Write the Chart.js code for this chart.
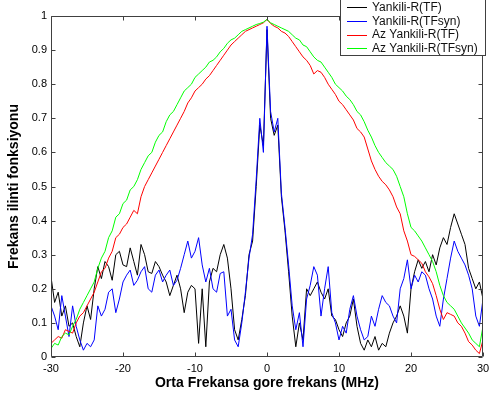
<!DOCTYPE html>
<html lang="tr">
<head>
    <meta charset="UTF-8">
    <title>Frekans ilinti fonksiyonu</title>
    <style>
        body { margin: 0; background: #fff; }
        #wrap { width: 489px; height: 401px; }
    </style>
    <script src="https://cdn.jsdelivr.net/npm/chart.js"></script>
</head>
<body>
    <div id="wrap"><canvas id="grafik" width="489" height="401"></canvas></div>

    <script>
        // frekans ekseni: -30 .. 30 MHz, 0.5 MHz adim
        var frekans = [];
        for (var f = -30; f <= 30.001; f += 0.5) frekans.push(Math.round(f * 10) / 10);

        var seriAdlari = ['Yankili-R(TF)', 'Yankili-R(TFsyn)', 'Az Yankili-R(TF)', 'Az Yankili-R(TFsyn)'];
        var renkler = ['#000000', '#0000ff', '#ff0000', '#00ff00'];

        var yankiliTF = [
            0.235, 0.16, 0.19, 0.12, 0.15, 0.09, 0.10, 0.06, 0.03, 0.10,
            0.15, 0.11, 0.20, 0.265, 0.23, 0.28, 0.265, 0.225, 0.30, 0.31,
            0.27, 0.265, 0.32, 0.28, 0.24, 0.33, 0.30, 0.25, 0.245, 0.28,
            0.265, 0.24, 0.22, 0.18, 0.21, 0.24, 0.20, 0.13, 0.19, 0.21,
            0.20, 0.04, 0.20, 0.03, 0.22, 0.26, 0.25, 0.30, 0.33, 0.29,
            0.20, 0.08, 0.05, 0.11, 0.18, 0.30, 0.34, 0.50, 0.68, 0.62,
            0.96,
            0.70, 0.65, 0.68, 0.47, 0.37, 0.25, 0.12, 0.03, 0.10, 0.05,
            0.20, 0.18, 0.20, 0.22, 0.19, 0.17, 0.20, 0.12, 0.11, 0.08,
            0.06, 0.10, 0.12, 0.17, 0.09, 0.04, 0.02, 0.05, 0.03, 0.06,
            0.02, 0.04, 0.03, 0.07, 0.10, 0.12, 0.15, 0.12, 0.07, 0.20,
            0.25, 0.285, 0.26, 0.28, 0.25, 0.30, 0.27, 0.32, 0.35, 0.33,
            0.38, 0.42, 0.39, 0.36, 0.33, 0.26, 0.23, 0.20, 0.22, 0.17
        ];

        var yankiliTFsyn = [
            0.15, 0.12, 0.08, 0.18, 0.12, 0.06, 0.15, 0.09, 0.05, 0.02,
            0.04, 0.03, 0.05, 0.15, 0.12, 0.14, 0.19, 0.20, 0.13, 0.17,
            0.22, 0.24, 0.255, 0.21, 0.225, 0.25, 0.265, 0.20, 0.19, 0.24,
            0.255, 0.22, 0.24, 0.255, 0.21, 0.225, 0.26, 0.30, 0.34, 0.29,
            0.31, 0.35, 0.27, 0.22, 0.26, 0.20, 0.19, 0.245, 0.25, 0.12,
            0.14, 0.05, 0.03, 0.10, 0.19, 0.29, 0.36, 0.52, 0.70, 0.60,
            0.97,
            0.72, 0.66, 0.70, 0.48, 0.38, 0.27, 0.15, 0.08, 0.13, 0.03,
            0.17, 0.21, 0.265, 0.24, 0.12, 0.20, 0.265, 0.13, 0.10, 0.05,
            0.09, 0.07, 0.14, 0.18, 0.12, 0.08, 0.05, 0.06, 0.12, 0.09,
            0.14, 0.18, 0.16, 0.15, 0.12, 0.10, 0.20, 0.23, 0.285, 0.20,
            0.24, 0.22, 0.25, 0.24, 0.20, 0.17, 0.12, 0.09, 0.17, 0.23,
            0.29, 0.34, 0.31, 0.29, 0.27, 0.24, 0.20, 0.12, 0.09, 0.17
        ];

        var azYankiliTF = [
            0.04, 0.05, 0.06, 0.055, 0.08, 0.075, 0.07, 0.10, 0.12, 0.13,
            0.15, 0.17, 0.19, 0.22, 0.25, 0.26, 0.29, 0.31, 0.35, 0.36,
            0.38, 0.39, 0.41, 0.43, 0.42, 0.47, 0.50, 0.52, 0.54, 0.56,
            0.58, 0.60, 0.62, 0.64, 0.66, 0.68, 0.70, 0.72, 0.745, 0.76,
            0.78, 0.79, 0.80, 0.815, 0.825, 0.84, 0.855, 0.87, 0.885, 0.90,
            0.915, 0.925, 0.935, 0.945, 0.955, 0.96, 0.965, 0.97, 0.975, 0.98,
            0.99,
            0.978, 0.97, 0.965, 0.955, 0.95, 0.94, 0.925, 0.91, 0.895, 0.88,
            0.87, 0.855, 0.83, 0.84, 0.835, 0.82, 0.80, 0.785, 0.77, 0.75,
            0.74, 0.725, 0.71, 0.695, 0.67, 0.66, 0.645, 0.61, 0.575, 0.55,
            0.53, 0.515, 0.505, 0.49, 0.47, 0.44, 0.42, 0.37, 0.34, 0.30,
            0.295, 0.285, 0.275, 0.25, 0.235, 0.215, 0.18, 0.14, 0.11, 0.13,
            0.125, 0.12, 0.10, 0.09, 0.07, 0.045, 0.035, 0.02, 0.01, 0.05
        ];

        var azYankiliTFsyn = [
            0.025, 0.04, 0.035, 0.06, 0.07, 0.065, 0.09, 0.11, 0.14, 0.16,
            0.18, 0.20, 0.22, 0.26, 0.29, 0.31, 0.35, 0.37, 0.41, 0.42,
            0.45, 0.46, 0.49, 0.50, 0.52, 0.55, 0.57, 0.59, 0.60, 0.63,
            0.65, 0.66, 0.69, 0.71, 0.72, 0.74, 0.76, 0.78, 0.79, 0.80,
            0.82, 0.83, 0.84, 0.85, 0.865, 0.87, 0.88, 0.895, 0.905, 0.92,
            0.93, 0.935, 0.945, 0.955, 0.96, 0.965, 0.97, 0.975, 0.978, 0.982,
            0.99,
            0.98, 0.975, 0.97, 0.965, 0.96, 0.955, 0.945, 0.935, 0.93, 0.915,
            0.91, 0.895, 0.88, 0.87, 0.865, 0.85, 0.835, 0.82, 0.80, 0.79,
            0.78, 0.765, 0.755, 0.74, 0.72, 0.71, 0.69, 0.665, 0.645, 0.62,
            0.60, 0.585, 0.57, 0.56, 0.55, 0.53, 0.50, 0.47, 0.42, 0.38,
            0.37, 0.355, 0.34, 0.32, 0.30, 0.28, 0.25, 0.21, 0.18, 0.16,
            0.15, 0.14, 0.12, 0.10, 0.085, 0.07, 0.05, 0.04, 0.03, 0.09
        ];

        var seriler = [yankiliTF, yankiliTFsyn, azYankiliTF, azYankiliTFsyn];
        var yazi = '"Liberation Sans", Arial, Helvetica, sans-serif';
        var eksenRengi = '#404040';

        function noktalar(degerler) {
            return degerler.map(function(v, i) { return { x: frekans[i], y: v }; });
        }

        // matlab tarzi ice dogru tikler, kutu ve lejant
        var kutuEklentisi = {
            id: 'kutu',
            afterDraw: function(chart) {
                var ctx = chart.ctx;
                var a = chart.chartArea;
                var sx = chart.scales.x, sy = chart.scales.y;
                var L = Math.round(a.left) + 0.5, R = Math.round(a.right) - 0.5;
                var T = Math.round(a.top) + 0.5, B = Math.round(a.bottom) - 0.5;
                ctx.save();
                ctx.strokeStyle = eksenRengi;
                ctx.lineWidth = 1;
                ctx.beginPath();
                ctx.rect(L, T, R - L, B - T);
                sx.ticks.forEach(function(t) {
                    var px = Math.round(sx.getPixelForValue(t.value)) + 0.5;
                    ctx.moveTo(px, B); ctx.lineTo(px, B - 4);
                    ctx.moveTo(px, T); ctx.lineTo(px, T + 4);
                });
                sy.ticks.forEach(function(t) {
                    var py = Math.round(sy.getPixelForValue(t.value)) + 0.5;
                    ctx.moveTo(L, py); ctx.lineTo(L + 4, py);
                    ctx.moveTo(R, py); ctx.lineTo(R - 4, py);
                });
                ctx.stroke();

                // lejant
                var lx = 340.5, ly = -0.5, lw = 145, lh = 56;
                ctx.fillStyle = '#fff';
                ctx.fillRect(lx, ly, lw, lh);
                ctx.strokeRect(lx, ly, lw, lh);
                ctx.font = '12px ' + yazi;
                ctx.textBaseline = 'middle';
                var satirY = [7, 21, 34.5, 48];
                seriAdlari.forEach(function(ad, i) {
                    var y = Math.round(satirY[i]) + 0.5;
                    ctx.strokeStyle = renkler[i];
                    ctx.beginPath();
                    ctx.moveTo(347, y); ctx.lineTo(367, y);
                    ctx.stroke();
                    ctx.fillStyle = '#111';
                    ctx.fillText(ad, 372, satirY[i] + 0.5);
                });
                ctx.restore();
            }
        };

        var datasetler = seriler.map(function(s, i) {
            return {
                label: seriAdlari[i],
                data: noktalar(s),
                borderColor: renkler[i],
                borderWidth: 1,
                pointRadius: 0,
                tension: 0,
                fill: false,
                order: 4 - i
            };
        });

        new Chart(document.getElementById('grafik').getContext('2d'), {
            type: 'line',
            data: { datasets: datasetler },
            options: {
                responsive: false,
                animation: false,
                events: [],
                layout: { padding: { top: 16, right: 6, left: 0, bottom: 0 } },
                plugins: { legend: { display: false }, tooltip: { enabled: false } },
                scales: {
                    x: {
                        type: 'linear',
                        min: -30,
                        max: 30,
                        grid: { display: false, drawTicks: false },
                        border: { display: false },
                        ticks: { stepSize: 10, padding: 5, color: '#000', font: { family: yazi, size: 11 } },
                        title: {
                            display: true,
                            text: 'Orta Frekansa gore frekans (MHz)',
                            color: '#000',
                            font: { family: yazi, size: 14, weight: 'bold' },
                            padding: { top: 0, bottom: 9 }
                        },
                        afterFit: function(scale) {
                            scale.height = 44;
                            scale.paddingLeft = 0;
                            scale.paddingRight = 0;
                        }
                    },
                    y: {
                        min: 0,
                        max: 1,
                        grid: { display: false, drawTicks: false },
                        border: { display: false },
                        ticks: {
                            stepSize: 0.1,
                            padding: 4,
                            color: '#000',
                            font: { family: yazi, size: 11 },
                            callback: function(v) { return String(Math.round(v * 10) / 10); }
                        },
                        title: {
                            display: true,
                            text: 'Frekans ilinti fonksiyonu',
                            color: '#000',
                            font: { family: yazi, size: 14, weight: 'bold' },
                            padding: { top: 6, bottom: 0 }
                        },
                        afterFit: function(scale) {
                            scale.width = 51;
                            scale.paddingTop = 0;
                            scale.paddingBottom = 0;
                        }
                    }
                }
            },
            plugins: [kutuEklentisi]
        });
    </script>
</body>
</html>
